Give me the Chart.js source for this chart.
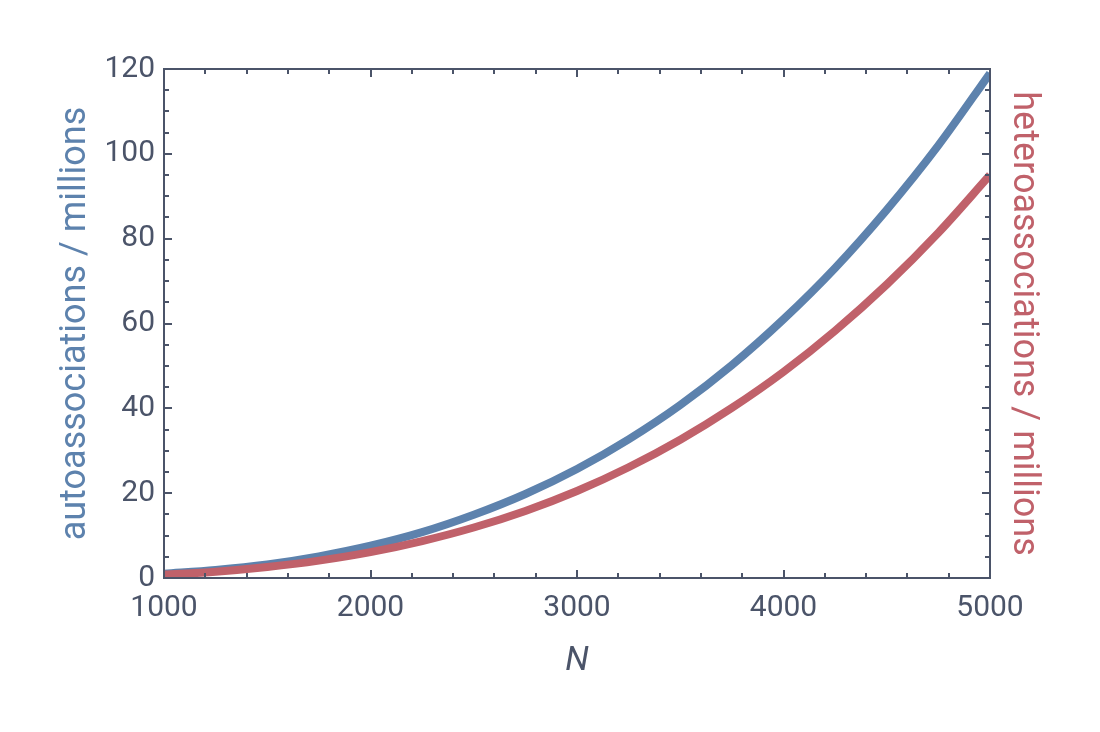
<!DOCTYPE html>
<html><head><meta charset="utf-8">
<script src="https://cdn.jsdelivr.net/npm/chart.js@4"></script>
<style>html,body{margin:0;padding:0;background:#fff}</style>
</head><body>
<canvas id="c" width="1100" height="732"></canvas>
<script>
const nValues = [1000,1250,1500,1750,2000,2250,2500,2750,3000,3250,3500,3750,4000,4250,4500,4750,5000];
const autoValues = [1.0,1.9,3.2,5.1,7.6,10.8,14.9,19.8,25.7,32.7,40.8,50.2,61.0,73.1,86.8,102.0,119.0];
const heteroValues = [0.8,1.5,2.6,4.1,6.1,8.7,11.9,15.8,20.5,26.1,32.6,40.1,48.6,58.3,69.2,81.4,95.0];
const xTickValues = [1000,2000,3000,4000,5000];
const yTickValues = [0,20,40,60,80,100,120];
const xMinorStep = 200;
const yMinorStep = 5;

const AXIS = '#4b5469';
const BLUE = '#5d82ad';
const RED = '#c0616a';
const FONT = 'Roboto';

const framePlugin = {
  id: 'frame',
  afterDraw(chart) {
    const ctx = chart.ctx, a = chart.chartArea;
    const xs = chart.scales.x, ys = chart.scales.y;
    ctx.save();
    ctx.strokeStyle = AXIS;
    ctx.lineWidth = 2;
    ctx.beginPath();
    const xMin = xTickValues[0], xMax = xTickValues[xTickValues.length-1];
    for (let v = xMin; v <= xMax; v += xMinorStep) {
      const major = xTickValues.includes(v);
      const L = major ? 8 : 5;
      const px = Math.round(xs.getPixelForValue(v));
      ctx.moveTo(px, a.bottom); ctx.lineTo(px, a.bottom - L);
      ctx.moveTo(px, a.top); ctx.lineTo(px, a.top + L);
    }
    const yMin = yTickValues[0], yMax = yTickValues[yTickValues.length-1];
    for (let v = yMin; v <= yMax; v += yMinorStep) {
      const major = yTickValues.includes(v);
      const L = major ? 8 : 5;
      const py = Math.round(ys.getPixelForValue(v));
      ctx.moveTo(a.left, py); ctx.lineTo(a.left + L, py);
      ctx.moveTo(a.right, py); ctx.lineTo(a.right - L, py);
    }
    ctx.stroke();
    ctx.strokeRect(a.left, a.top, a.right - a.left, a.bottom - a.top);
    ctx.restore();
  }
};

new Chart(document.getElementById('c'), {
  type: 'line',
  data: {
    datasets: [
      { label: 'autoassociations', data: nValues.map((n,i)=>({x:n,y:autoValues[i]})), borderColor: BLUE, borderWidth: 8, pointRadius: 0, cubicInterpolationMode: 'monotone', order: 1, clip: 0, yAxisID: 'y' },
      { label: 'heteroassociations', data: nValues.map((n,i)=>({x:n,y:heteroValues[i]})), borderColor: RED, borderWidth: 8, pointRadius: 0, cubicInterpolationMode: 'monotone', order: 0, clip: 0, yAxisID: 'y' }
    ]
  },
  options: {
    responsive: false,
    animation: false,
    devicePixelRatio: 1,
    layout: { padding: { left: 50, right: 51, top: 69, bottom: 46 } },
    plugins: { legend: { display: false }, tooltip: { enabled: false } },
    scales: {
      x: {
        type: 'linear', position: 'bottom', min: 1000, max: 5000,
        afterBuildTicks: s => { s.ticks = xTickValues.map(v => ({value: v})); },
        afterFit: s => { s.height = 108; },
        grid: { display: false, drawTicks: false },
        border: { display: false },
        ticks: { color: AXIS, font: { family: FONT, size: 30 }, padding: 12, maxRotation: 0, callback: v => String(v) },
        title: { display: true, text: 'N', color: AXIS, font: { family: FONT, size: 34, style: 'italic' }, padding: 4 }
      },
      y: {
        type: 'linear', position: 'left', min: 0, max: 120,
        afterBuildTicks: s => { s.ticks = yTickValues.map(v => ({value: v})); },
        afterFit: s => { s.width = 114; },
        grid: { display: false, drawTicks: false },
        border: { display: false },
        ticks: { color: AXIS, font: { family: FONT, size: 30 }, padding: 9, callback: v => String(v) },
        title: { display: true, text: 'autoassociations / millions', color: BLUE, font: { family: FONT, size: 36 }, padding: 4 }
      },
      y2: {
        type: 'linear', position: 'right', min: 0, max: 120,
        afterFit: s => { s.width = 59; },
        grid: { display: false, drawTicks: false },
        border: { display: false },
        ticks: { display: false },
        title: { display: true, text: 'heteroassociations / millions', color: RED, font: { family: FONT, size: 36 }, padding: 4 }
      }
    }
  },
  plugins: [framePlugin]
});
</script>
</body></html>
